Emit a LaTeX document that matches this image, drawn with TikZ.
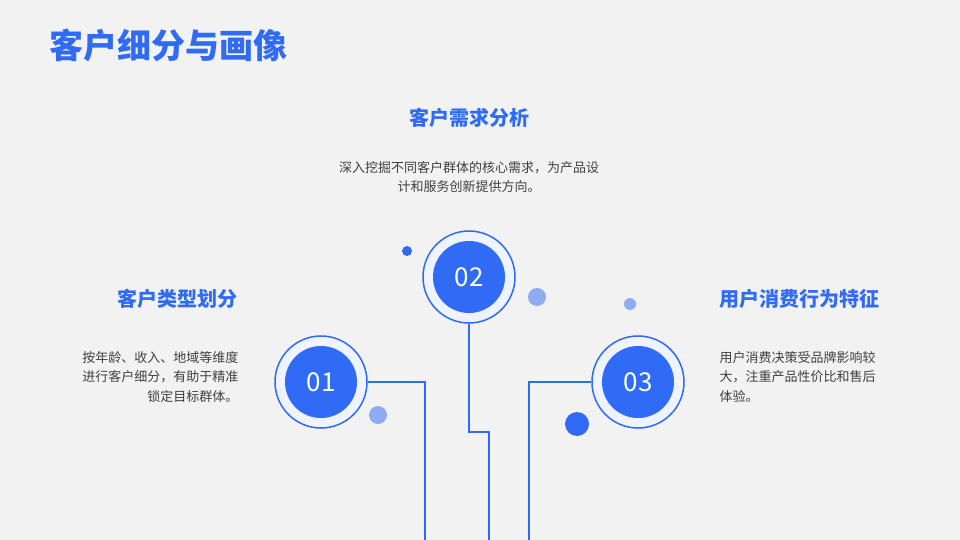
\documentclass[tikz,border=0pt]{standalone}
\usepackage{fontspec}
\setmainfont{Noto Sans CJK SC}
\usetikzlibrary{positioning}
\definecolor{mainblue}{HTML}{2F6BF5}
\definecolor{lightblue}{HTML}{8FACF2}
\definecolor{textgray}{HTML}{404040}
\definecolor{bggray}{HTML}{F2F2F2}

\begin{document}
\begin{tikzpicture}[x=1pt,y=-1pt,
  ring/.style={circle,draw=mainblue,line width=1.5pt,fill=white!92!mainblue,minimum size=92pt,inner sep=0pt},
  core/.style={circle,fill=mainblue,minimum size=72pt,inner sep=0pt,text=white,font=\fontsize{26}{26}\selectfont},
  heading/.style={text=mainblue,font=\bfseries\fontsize{20}{24}\selectfont},
  body/.style={text=textgray,font=\fontsize{13}{19.5}\selectfont},
  wire/.style={mainblue,line width=1.5pt},
  dot/.style={circle,fill=#1,inner sep=0pt}]

  \fill[bggray] (0,0) rectangle (960,540);
  \useasboundingbox (0,0) rectangle (960,540);

  \node[anchor=west,text=mainblue,font=\bfseries\fontsize{34}{40}\selectfont] (title) at (46,45) {客户细分与画像};

  % circles
  \node[ring] (r2) at (469,277) {};
  \node[core] (c2) at (469,277) {02};
  \node[ring] (r1) at (321,382) {};
  \node[core] (c1) at (321,382) {01};
  \node[ring] (r3) at (638,382) {};
  \node[core] (c3) at (638,382) {03};

  \coordinate (e1) at (425,540);
  \coordinate (e2) at (489,540);
  \coordinate (e3) at (529,540);
  \draw[wire] (r1.east) -| (e1);
  \draw[wire] (r2.south) -- (469,432) -| (e2);
  \draw[wire] (r3.west) -| (e3);

  % dots
  \node[dot=mainblue,minimum size=10pt] (d1) at (407,251) {};
  \node[dot=lightblue,minimum size=18pt] (d2) at (537,297) {};
  \node[dot=lightblue,minimum size=12pt] (d3) at (630,304) {};
  \node[dot=lightblue,minimum size=18pt] (d4) at (378,415) {};
  \node[dot=mainblue,minimum size=24pt] (d5) at (577,424) {};

  % texts
  \node[heading] (h2) at (469,118) {客户需求分析};
  \node[body,align=center] (t2) at (469,177) {深入挖掘不同客户群体的核心需求，为产品设\\计和服务创新提供方向。};
  \node[heading,anchor=east] (h1) at (241,299) {客户类型划分};
  \node[body,align=right,anchor=east] (t1) at (242,377) {按年龄、收入、地域等维度\\进行客户细分，有助于精准\\锁定目标群体。};
  \node[heading,anchor=west] (h3) at (716,299) {用户消费行为特征};
  \node[body,align=left,anchor=west] (t3) at (716,377) {用户消费决策受品牌影响较\\大，注重产品性价比和售后\\体验。};
\end{tikzpicture}
\end{document}
